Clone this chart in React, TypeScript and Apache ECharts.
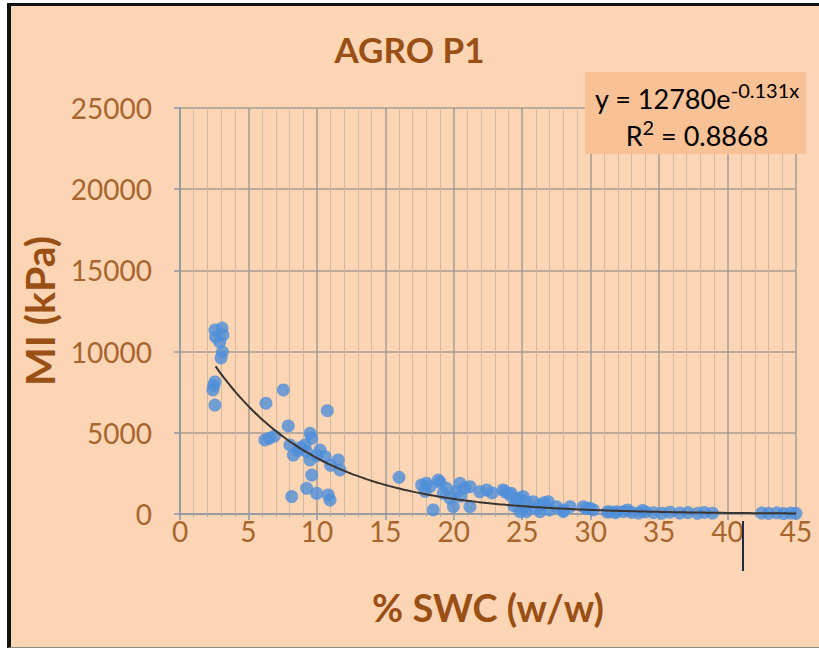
import React, { useEffect, useRef } from "react";
import * as echarts from "echarts";

// Soil water content (% w/w) measured at each sample
const swc: number[] = [
  // dry end
  2.55, 3.07, 3.14, 2.9, 3.1, 3.0, 2.55, 2.4, 2.45, 2.55, 2.6,
  // 6 - 12 %
  7.55, 6.28, 10.76, 7.91, 6.52, 6.2, 6.9, 9.5, 9.62, 8.03, 9.13, 8.28, 9.25, 10.23,
  9.5, 10.6, 11.56, 11.69, 9.62, 9.25, 9.98, 10.83, 10.96, 8.16, 8.6, 10.0, 11.0, 8.8,
  // 16 - 23 %
  16.0, 17.65, 18.87, 18.26, 19.48, 20.45, 20.2, 21.18, 21.9, 22.4, 18.5, 19.97, 21.18,
  19.72, 19.23, 18.0, 19.0, 20.8, 22.8, 17.9, 20.5,
  // 23 - 32 %
  23.74, 24.1, 24.6, 25.07, 24.84, 25.8, 26.3, 26.9, 27.5, 28.0, 28.5, 29.46, 29.95,
  25.3, 26.3, 23.6, 24.2, 24.8, 25.3, 29.7, 25.1, 26.0, 27.0, 28.0, 24.4, 26.6, 30.2,
  31.4, 31.9,
  // wet end
  31.2, 31.8, 32.4, 33.0, 33.5, 34.0, 34.6, 35.2, 35.8, 36.5, 37.1, 37.8, 38.3, 38.9,
  32.7, 33.8,
  42.5, 43.0, 43.6, 44.1, 44.6, 45.0,
];

// Mechanical impedance (kPa) for the same samples
const mi: number[] = [
  11330, 11450, 11020, 10590, 9980, 9610, 8130, 7640, 7900, 6710, 10900,
  7640, 6820, 6360, 5420, 4660, 4560, 4800, 4970, 4660, 4250, 4250, 3630, 3840, 3940,
  3330, 3530, 3330, 2710, 2400, 1580, 1270, 1170, 860, 1070, 3900, 3600, 3000, 4100,
  2260, 1790, 2090, 1680, 1580, 1890, 1370, 1680, 1370, 1480, 250, 450, 450,
  970, 1270, 1900, 1950, 1600, 1300, 1400, 1100,
  1370, 1170, 860, 1070, 140, 760, 550, 760, 450, 250, 450, 450, 350,
  140, 140, 1480, 1270, 970, 760, 350, 300, 350, 250, 140, 500, 700, 250,
  140, 140,
  120, 80, 150, 100, 60, 130, 80, 50, 110, 60, 90, 40, 100, 50,
  250, 220,
  60, 40, 70, 30, 60, 40,
];

// Exponential fit y = a * e^(b x), as reported with the chart
const fitA = 12780;
const fitB = -0.131;
const fitR2 = 0.8868;
const fitFrom = 2.6;
const fitTo = 45;

const titleText = "AGRO P1";
const xName = "% SWC (w/w)";
const yName = "MI (kPa)";

const FONT = "Lato, 'Open Sans', sans-serif";
const BROWN = "#9A4F14";
const LABEL_BROWN = "#A8662E";

export default function App() {
  const ref = useRef<HTMLDivElement>(null);

  useEffect(() => {
    if (!ref.current) return;
    const chart = echarts.init(ref.current, undefined, { renderer: "svg" });

    const points = swc.map((x, i) => [x, mi[i]]);
    const fit: number[][] = [];
    const steps = 120;
    for (let i = 0; i <= steps; i++) {
      const x = fitFrom + ((fitTo - fitFrom) * i) / steps;
      fit.push([x, fitA * Math.exp(fitB * x)]);
    }

    const eqRich = {
      a: { fontFamily: FONT, fontSize: 27, color: LABEL_BROWN, verticalAlign: "bottom", lineHeight: 32 },
      s: { fontFamily: FONT, fontSize: 20, color: LABEL_BROWN, verticalAlign: "top", lineHeight: 32 },
    };

    chart.setOption({
      animation: false,
      backgroundColor: "transparent",
      textStyle: { fontFamily: FONT },
      title: {
        text: titleText,
        left: "center",
        top: 26,
        textStyle: { fontFamily: FONT, fontSize: 35, fontWeight: "bold", color: BROWN },
      },
      grid: { left: 180, top: 108, width: 616, height: 406 },
      xAxis: {
        type: "value",
        min: 0,
        max: 45,
        interval: 5,
        name: xName,
        nameLocation: "middle",
        nameGap: 74,
        nameTextStyle: { fontFamily: FONT, fontSize: 38, fontWeight: "bold", color: BROWN },
        axisLine: { show: true, onZero: false, lineStyle: { color: "#8C97A6", width: 1.5 } },
        axisTick: { show: true, length: 6, lineStyle: { color: "#8C97A6", width: 1.5 } },
        minorTick: { show: true, splitNumber: 5, length: 3, lineStyle: { color: "#A9A9AD" } },
        splitLine: { show: true, lineStyle: { color: "#A49C96", width: 1.5 } },
        minorSplitLine: { show: true, lineStyle: { color: "#D3B9A2", width: 1 } },
        axisLabel: { fontFamily: FONT, fontSize: 28, color: LABEL_BROWN, margin: 3 },
      },
      yAxis: {
        type: "value",
        min: 0,
        max: 25000,
        interval: 5000,
        name: yName,
        nameLocation: "middle",
        nameGap: 116,
        nameTextStyle: { fontFamily: FONT, fontSize: 41, fontWeight: "bold", color: BROWN },
        axisLine: { show: true, lineStyle: { color: "#8C97A6", width: 1.5 } },
        axisTick: { show: true, length: 6, lineStyle: { color: "#8C97A6", width: 1.5 } },
        splitLine: { show: true, lineStyle: { color: "#A49C96", width: 1.5 } },
        axisLabel: {
          fontFamily: FONT,
          fontSize: 28,
          color: LABEL_BROWN,
          margin: 28,
          formatter: (v: number) => String(v),
        },
      },
      series: [
        {
          type: "scatter",
          data: points,
          symbolSize: 13,
          itemStyle: { color: "#4D8EDA" },
          z: 3,
        },
        {
          type: "line",
          data: fit,
          showSymbol: false,
          smooth: true,
          lineStyle: { color: "#3A3430", width: 2 },
          z: 4,
        },
      ],
      graphic: [
        {
          type: "rect",
          z: 100,
          shape: { x: 585, y: 72, width: 221, height: 82 },
          style: { fill: "#F9C196" },
        },
        {
          type: "text",
          z: 101,
          x: 697,
          y: 96,
          style: {
            text: `{a|y = ${fitA}e}{s|${fitB}x}`,
            align: "center",
            verticalAlign: "middle",
            rich: eqRich,
          },
        },
        {
          type: "text",
          z: 101,
          x: 697,
          y: 133,
          style: {
            text: `{a|R}{s|2}{a| = ${fitR2}}`,
            align: "center",
            verticalAlign: "middle",
            rich: eqRich,
          },
        },
        {
          type: "line",
          z: 101,
          shape: { x1: 743, y1: 521, x2: 743, y2: 571 },
          style: { stroke: "#1F2A44", lineWidth: 2 },
        },
      ],
    });

    return () => chart.dispose();
  }, []);

  return (
    <div style={{ position: "absolute", left: 0, top: 0, width: 819, height: 652, background: "#ffffff", overflow: "hidden" }}>
      <div
        style={{
          position: "absolute",
          left: 7,
          top: 3,
          width: 812,
          height: 645,
          boxSizing: "border-box",
          background: "#FCD5B5",
          borderLeft: "4px solid #111111",
          borderTop: "3px solid #111111",
          borderBottom: "1px solid #8A8A8A",
        }}
      />
      <div ref={ref} style={{ position: "absolute", left: 0, top: 0, width: 819, height: 652 }} />
    </div>
  );
}
